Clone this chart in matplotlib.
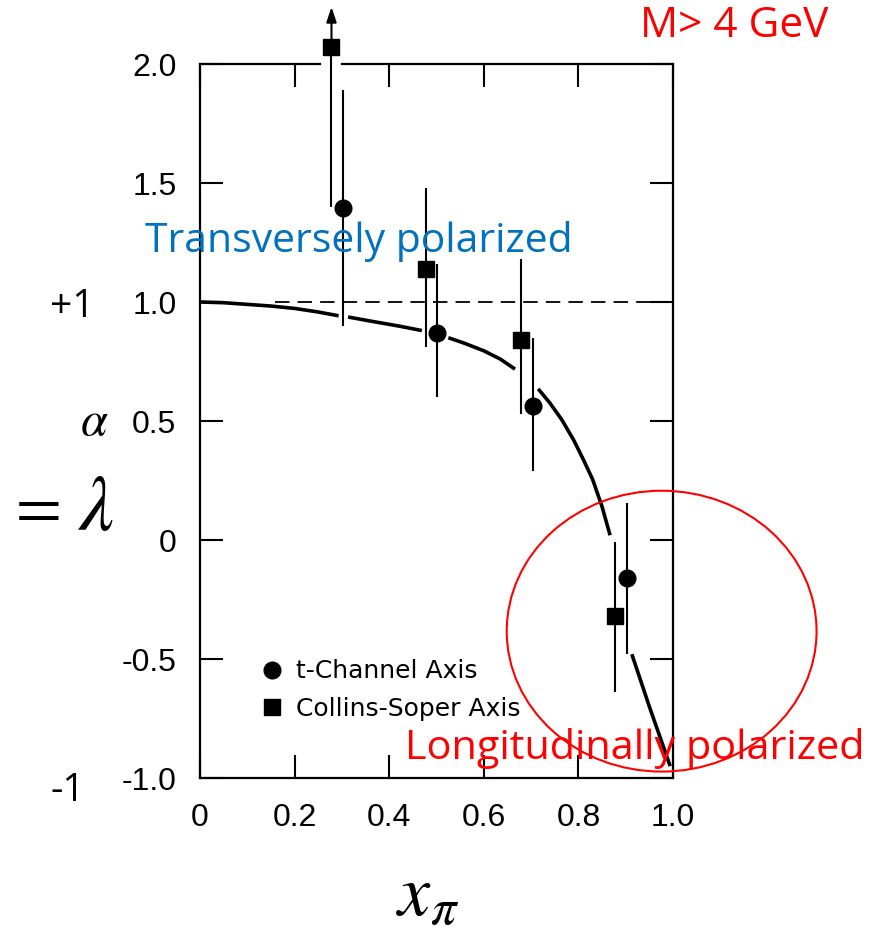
import matplotlib
matplotlib.use("Agg")
import matplotlib.pyplot as plt
from matplotlib.lines import Line2D
from matplotlib.patches import Ellipse

plt.rcParams['mathtext.fontset'] = 'stix'

# t-channel axis points (circles) and error bar ends
x_t = [0.302, 0.502, 0.703, 0.903]
y_t = [1.395, 0.87, 0.563, -0.16]
t_hi = [1.89, 1.16, 0.85, 0.157]
t_lo = [0.90, 0.60, 0.29, -0.48]

# Collins-Soper axis points (squares); first one is off scale, drawn with an arrow
x_cs = [0.278, 0.478, 0.678, 0.877]
y_cs = [2.07, 1.137, 0.84, -0.32]
cs_hi = [2.24, 1.48, 1.18, -0.007]
cs_lo = [1.40, 0.81, 0.53, -0.64]
cs_arrow = [True, False, False, False]

# model curve, broken (None) where it passes the data points
curve_x = [0.0, 0.05, 0.1, 0.15, 0.2, 0.25, 0.293, None,
           0.313, 0.36, 0.423, 0.469, None,
           0.525, 0.56, 0.6, 0.635, 0.666, None,
           0.715, 0.74, 0.765, 0.79, 0.81, 0.83, 0.85, 0.867, None,
           0.913, 0.95, 0.994]
curve_y = [1.0, 0.997, 0.99, 0.983, 0.973, 0.958, 0.942, None,
           0.937, 0.92, 0.898, 0.88, None,
           0.85, 0.826, 0.795, 0.76, 0.718, None,
           0.635, 0.575, 0.505, 0.42, 0.34, 0.255, 0.14, 0.02, None,
           -0.48, -0.70, -0.95]

x_ticks = [0, 0.2, 0.4, 0.6, 0.8, 1.0]
x_ticklabels = ['0', '0.2', '0.4', '0.6', '0.8', '1.0']
y_ticks = [-1.0, -0.5, 0, 0.5, 1.0, 1.5, 2.0]
y_ticklabels = ['-1.0', '-0.5', '0', '0.5', '1.0', '1.5', '2.0']

W, H = 885, 938
fig = plt.figure(figsize=(W / 100, H / 100), dpi=100)
ax = fig.add_axes([200 / W, 1 - 778 / H, 473 / W, 714 / H])
ax.set_xlim(0, 1.0)
ax.set_ylim(-1.0, 2.0)

cx = [float('nan') if v is None else v for v in curve_x]
cy = [float('nan') if v is None else v for v in curve_y]
ax.plot(cx, cy, color='black', lw=2.6, solid_capstyle='butt', solid_joinstyle='round')

# unpolarized reference level
ax.plot([0.159, 1.0], [1.0, 1.0], color='black', lw=1.3, ls=(0, (8, 4.5)))

t_err = [[y - lo for y, lo in zip(y_t, t_lo)], [hi - y for y, hi in zip(y_t, t_hi)]]
ax.errorbar(x_t, y_t, yerr=t_err, fmt='o', color='black', ms=12, elinewidth=1.5,
            capsize=0, clip_on=False, zorder=4)

cs_up = [0 if a else hi - y for y, hi, a in zip(y_cs, cs_hi, cs_arrow)]
cs_err = [[y - lo for y, lo in zip(y_cs, cs_lo)], cs_up]
ax.errorbar(x_cs, y_cs, yerr=cs_err, fmt='s', color='black', ms=11, elinewidth=1.5,
            capsize=0, clip_on=False, zorder=4)
for x, y, hi, a in zip(x_cs, y_cs, cs_hi, cs_arrow):
    if a:
        ax.annotate('', xy=(x, hi), xytext=(x, y), annotation_clip=False,
                    arrowprops=dict(arrowstyle='-|>,head_length=0.9,head_width=0.3',
                                    color='black', lw=1.5, shrinkA=0, shrinkB=0))

# frame: top edge is interrupted where the arrow passes
for s in ['left', 'right', 'bottom']:
    ax.spines[s].set_linewidth(1.6)
ax.spines['top'].set_visible(False)
ax.plot([0, 0.254], [2.0, 2.0], color='black', lw=1.6, clip_on=False)
ax.plot([0.300, 1.0], [2.0, 2.0], color='black', lw=1.6, clip_on=False)

ax.set_xticks(x_ticks)
ax.set_xticklabels(x_ticklabels)
ax.set_yticks(y_ticks)
ax.set_yticklabels(y_ticklabels)
ax.tick_params(direction='in', length=16.5, width=1.5, top=True, right=True,
               labelsize=23, colors='black')
ax.tick_params(axis='x', pad=18)
ax.tick_params(axis='y', pad=17)
for lab in ax.get_xticklabels() + ax.get_yticklabels():
    lab.set_fontfamily('Liberation Sans')

handles = [Line2D([], [], marker='o', ls='', color='black', ms=12),
           Line2D([], [], marker='s', ls='', color='black', ms=11)]
ax.legend(handles, ['t-Channel Axis', 'Collins-Soper Axis'], loc='lower left',
          bbox_to_anchor=(0.0995, 0.062), frameon=False, handlelength=1.0,
          handletextpad=0.45, labelspacing=0.55, borderpad=0,
          prop={'family': 'DejaVu Sans', 'size': 18})

ax.add_patch(Ellipse((0.976, -0.383), 0.655, 1.18, fill=False, ec='red', lw=1.5,
                     clip_on=False, zorder=6))

# annotation text, scaled so each string spans its intended width in pixels
renderer = fig.canvas.get_renderer()


def label(text, left, base, width, color):
    t = fig.text(left / W, 1 - base / H, text, color=color, fontsize=28,
                 family='Open Sans', ha='left', va='baseline', zorder=7)
    w = t.get_window_extent(renderer).width
    t.set_fontsize(28 * width / w)
    return t


label('M> 4 GeV', 640, 36.7, 188, 'red')
label('Transversely polarized', 145, 251.7, 427, '#0070C0')
label('Longitudinally polarized', 405, 759, 460, 'red')
fig.text(50 / W, 1 - 316.7 / H, '+1', fontsize=28, family='Open Sans', va='baseline')
fig.text(50 / W, 1 - 801 / H, '-1', fontsize=28, family='Open Sans', va='baseline')

fig.text(80 / W, 1 - 435 / H, r'$\alpha$', fontsize=35, va='baseline')
fig.text(6 / W, 1 - 526 / H, r'$=$', fontsize=48, va='baseline')
fig.text(78 / W, 1 - 530 / H, r'$\lambda$', fontsize=56, va='baseline')
fig.text(396 / W, 1 - 915 / H, r'$x_\pi$', fontsize=52, va='baseline')

fig.savefig('out.png', dpi=100)
